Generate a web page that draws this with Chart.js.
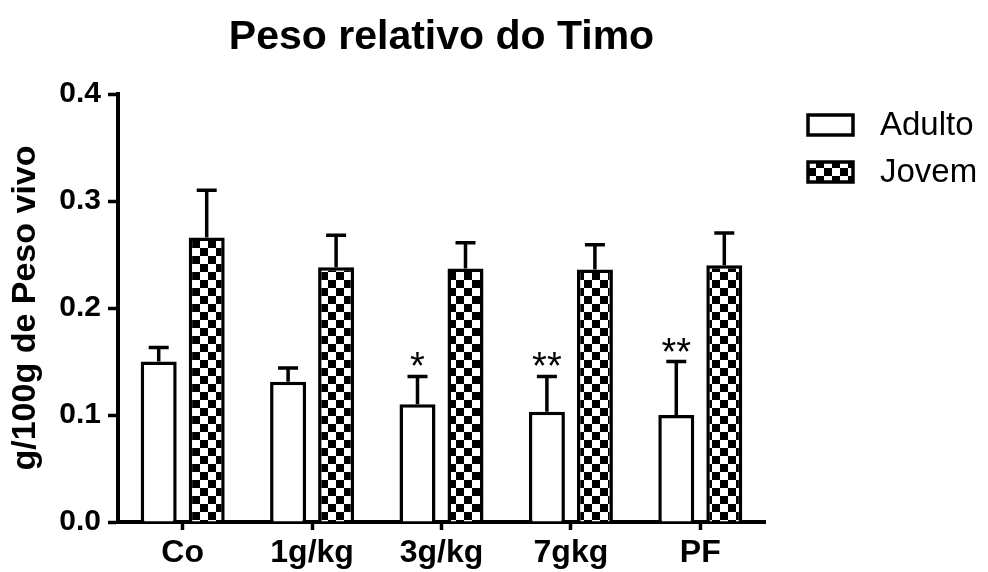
<!DOCTYPE html>
<html>
<head>
<meta charset="utf-8">
<script src="https://cdn.jsdelivr.net/npm/chart.js@4"></script>
<style>
  html, body { margin: 0; padding: 0; background: #fff; }
  #wrap { width: 988px; height: 572px; }
</style>
</head>
<body>
<div id="wrap"><canvas id="c" width="988" height="572"></canvas></div>
<script>
// ---- data ----
const categories = ['Co', '1g/kg', '3g/kg', '7gkg', 'PF'];
const adultoMean = [0.150, 0.131, 0.110, 0.103, 0.100];
const adultoErr  = [0.013, 0.013, 0.026, 0.033, 0.050];
const jovemMean  = [0.266, 0.238, 0.237, 0.236, 0.240];
const jovemErr   = [0.044, 0.030, 0.024, 0.023, 0.030];
const adultoSig  = ['', '', '*', '**', '**'];
const yTicks     = [0.0, 0.1, 0.2, 0.3, 0.4];
const titleText  = 'Peso relativo do Timo';
const yTitleText = 'g/100g de Peso vivo';
const seriesNames = ['Adulto', 'Jovem'];

// checkerboard pattern
function makeChecker(sq) {
  const pc = document.createElement('canvas');
  pc.width = sq * 2; pc.height = sq * 2;
  const g = pc.getContext('2d');
  g.fillStyle = '#fff'; g.fillRect(0, 0, sq * 2, sq * 2);
  g.fillStyle = '#000';
  g.fillRect(0, 0, sq, sq);
  g.fillRect(sq, sq, sq, sq);
  return document.getElementById('c').getContext('2d').createPattern(pc, 'repeat');
}
const checker = makeChecker(8);

const errs = [adultoErr, jovemErr];
const sigs = [adultoSig, null];

const errorBars = {
  id: 'errorBars',
  afterDatasetsDraw(chart) {
    const ctx = chart.ctx;
    const ys = chart.scales.y;
    chart.data.datasets.forEach((ds, di) => {
      const meta = chart.getDatasetMeta(di);
      meta.data.forEach((el, i) => {
        const top = ys.getPixelForValue(ds.data[i] + errs[di][i]);
        ctx.save();
        ctx.strokeStyle = '#000';
        ctx.lineWidth = 3.5;
        ctx.lineCap = 'butt';
        ctx.beginPath();
        ctx.moveTo(el.x, el.y);
        ctx.lineTo(el.x, top);
        ctx.moveTo(el.x - 10, top);
        ctx.lineTo(el.x + 10, top);
        ctx.stroke();
        if (sigs[di] && sigs[di][i]) {
          ctx.fillStyle = '#000';
          ctx.font = '38px "Liberation Sans", Arial, sans-serif';
          ctx.textAlign = 'center';
          ctx.textBaseline = 'alphabetic';
          ctx.fillText(sigs[di][i], el.x, top + 3);
        }
        ctx.restore();
      });
    });
  }
};

const customLegend = {
  id: 'customLegend',
  afterDraw(chart) {
    const ctx = chart.ctx;
    const fills = chart.data.datasets.map(d => d.backgroundColor);
    const x0 = 808, boxW = 45, boxH = 20;
    const rows = [125, 172];
    ctx.save();
    seriesNames.forEach((name, i) => {
      const cy = rows[i];
      ctx.fillStyle = fills[i];
      ctx.fillRect(x0, cy - boxH / 2, boxW, boxH);
      ctx.strokeStyle = '#000';
      ctx.lineWidth = 3.5;
      ctx.strokeRect(x0, cy - boxH / 2, boxW, boxH);
      ctx.fillStyle = '#000';
      ctx.font = '33px "Liberation Sans", Arial, sans-serif';
      ctx.textAlign = 'left';
      ctx.textBaseline = 'middle';
      ctx.fillText(name, 880, cy + 1);
    });
    ctx.restore();
  }
};

const BOLD = '"Liberation Sans", Arial, sans-serif';

new Chart(document.getElementById('c'), {
  type: 'bar',
  data: {
    labels: categories,
    datasets: [
      { label: seriesNames[0], data: adultoMean, backgroundColor: '#ffffff',
        borderColor: '#000', borderWidth: 3.5, borderSkipped: 'start' },
      { label: seriesNames[1], data: jovemMean, backgroundColor: checker,
        borderColor: '#000', borderWidth: 3.5, borderSkipped: 'start' }
    ]
  },
  options: {
    responsive: false,
    animation: false,
    devicePixelRatio: 1,
    layout: { padding: { left: 0, right: 223, top: 0, bottom: 0 } },
    datasets: { bar: { categoryPercentage: 0.742, barPercentage: 0.75 } },
    plugins: {
      legend: { display: false },
      tooltip: { enabled: false },
      title: {
        display: true,
        text: titleText,
        fullSize: false,
        color: '#000',
        font: { family: BOLD, size: 41, weight: 'bold' },
        padding: { top: 13, bottom: 31.8 }
      }
    },
    scales: {
      x: {
        offset: true,
        grid: { display: true, drawOnChartArea: false, offset: false, drawTicks: true,
                tickLength: 8, tickWidth: 3.5, tickColor: '#000' },
        border: { display: true, color: '#000', width: 4 },
        ticks: { color: '#000', font: { family: BOLD, size: 32, weight: 'bold' }, padding: 4 },
        afterFit(s) { s.height = 50; }
      },
      y: {
        min: 0, max: 0.4,
        afterBuildTicks(s) { s.ticks = yTicks.map(v => ({ value: v })); },
        grid: { display: true, drawOnChartArea: false, drawTicks: true,
                tickLength: 10, tickWidth: 3.5, tickColor: '#000' },
        border: { display: true, color: '#000', width: 4 },
        ticks: { color: '#000', font: { family: BOLD, size: 30, weight: 'bold' }, padding: 7,
                 callback: v => Number(v).toFixed(1) },
        title: { display: true, text: yTitleText, color: '#000',
                 font: { family: BOLD, size: 34, weight: 'bold' }, padding: { top: 5, bottom: 0 } },
        afterFit(s) { s.width = 118; }
      }
    }
  },
  plugins: [errorBars, customLegend]
});
</script>
</body>
</html>
